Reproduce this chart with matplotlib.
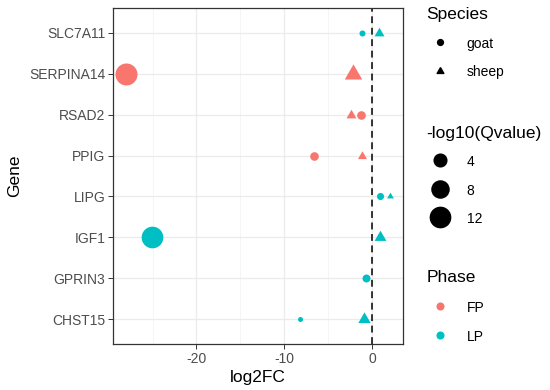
import numpy as np
import matplotlib
matplotlib.use("Agg")
import matplotlib.pyplot as plt
from matplotlib.lines import Line2D

plt.rcParams['font.family'] = ['Liberation Sans', 'DejaVu Sans']
plt.rcParams['axes.unicode_minus'] = False

genes = ['CHST15', 'GPRIN3', 'IGF1', 'LIPG', 'PPIG', 'RSAD2', 'SERPINA14', 'SLC7A11']

pt_gene = ['SLC7A11', 'SLC7A11', 'SERPINA14', 'SERPINA14', 'RSAD2', 'RSAD2',
           'PPIG', 'PPIG', 'LIPG', 'LIPG', 'IGF1', 'IGF1', 'GPRIN3', 'CHST15', 'CHST15']
pt_species = ['goat', 'sheep', 'goat', 'sheep', 'sheep', 'goat',
              'goat', 'sheep', 'goat', 'sheep', 'goat', 'sheep', 'goat', 'goat', 'sheep']
pt_phase = ['LP', 'LP', 'FP', 'FP', 'FP', 'FP',
            'FP', 'FP', 'LP', 'LP', 'LP', 'LP', 'LP', 'LP', 'LP']
pt_log2fc = [-1.15, 0.8, -28.0, -2.2, -2.4, -1.3,
             -6.6, -1.1, 0.95, 2.0, -25.05, 0.95, -0.75, -8.2, -0.9]
pt_q = [1.35, 1.56, 14.5, 4.2, 1.56, 1.9,
        1.9, 1.43, 1.5, 1.3, 14.0, 1.95, 1.7, 1.3, 2.1]

size_breaks = [4, 8, 12]
phase_colors = {'FP': '#F8766D', 'LP': '#00BFC4'}

# R-style filled triangle (pch 17), centred on centroid
tri = [(0, 1.555), (1.347, -0.778), (-1.347, -0.778), (0, 1.555)]
markers = {'goat': 'o', 'sheep': tri}
q_min, q_max = 1.3, 14.5


def diam_pt(q):
    # sqrt area scale like ggplot scale_size, diameter in points
    px = 5 + 17 * np.sqrt((np.asarray(q) - q_min) / (q_max - q_min))
    return px * 0.72


def marker_pt(q, sp):
    d = diam_pt(q)
    return d * 1.555 if sp == 'sheep' else d


fig = plt.figure(figsize=(5.5, 3.9), dpi=100)
ax = fig.add_axes([0.2055, 0.118, 0.527, 0.8615])

ypos = {g: i + 1 for i, g in enumerate(genes)}
for i in range(len(pt_gene)):
    ms = marker_pt(pt_q[i], pt_species[i])
    ax.scatter(pt_log2fc[i], ypos[pt_gene[i]], s=ms ** 2,
               marker=markers[pt_species[i]], color=phase_colors[pt_phase[i]],
               linewidths=0, zorder=3)

ax.axvline(0, color='black', lw=1.1, ls=(0, (4.5, 3)), zorder=2)

ax.set_xlim(-29.5, 3.5)
ax.set_ylim(0.4, len(genes) + 0.6)
ax.set_xticks([-20, -10, 0])
ax.set_xticks([-25, -15, -5], minor=True)
ax.set_yticks(range(1, len(genes) + 1))
ax.set_yticklabels(genes)
ax.grid(True, which='major', color='#EBEBEB', lw=0.9, zorder=0)
ax.grid(True, which='minor', axis='x', color='#F2F2F2', lw=0.5, zorder=0)
ax.set_axisbelow(True)
ax.tick_params(which='major', length=3.5, width=0.7, color='#333333',
               labelcolor='#4D4D4D', labelsize=10, pad=2)
ax.tick_params(which='minor', length=0)
for sp in ax.spines.values():
    sp.set_color('#333333')
    sp.set_linewidth(0.9)
ax.set_xlabel('log2FC', fontsize=12.5, labelpad=3)
ax.set_ylabel('Gene', fontsize=12.5, labelpad=5)

# legends
leg_kw = dict(frameon=False, loc='upper left', alignment='left',
              fontsize=10, title_fontsize=12.5, borderpad=0,
              handletextpad=0.9, borderaxespad=0)
h_species = [Line2D([], [], ls='', marker='o', color='black', ms=4.2),
             Line2D([], [], ls='', marker=tri, color='black', ms=5.6)]
l1 = fig.legend(h_species, ['goat', 'sheep'], title='Species',
                bbox_to_anchor=(0.775, 0.982), labelspacing=1.05,
                handleheight=1.0, **leg_kw)
h_size = [Line2D([], [], ls='', marker='o', color='black', ms=diam_pt(b))
          for b in size_breaks]
l2 = fig.legend(h_size, [str(b) for b in size_breaks], title='-log10(Qvalue)',
                bbox_to_anchor=(0.775, 0.677), labelspacing=0.95,
                handleheight=1.3, **leg_kw)
h_phase = [Line2D([], [], ls='', marker='o', color=phase_colors[p], ms=4.8)
           for p in ['FP', 'LP']]
l3 = fig.legend(h_phase, ['FP', 'LP'], title='Phase',
                bbox_to_anchor=(0.775, 0.307), labelspacing=1.1,
                handleheight=1.0, **leg_kw)

fig.savefig('out.png', dpi=100)
